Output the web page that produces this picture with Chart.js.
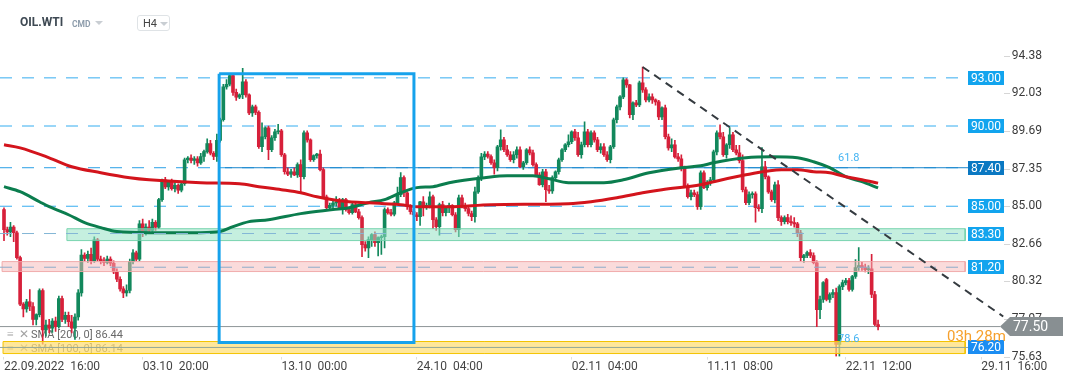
<!DOCTYPE html>
<html>
<head>
<meta charset="utf-8">
<title>OIL.WTI H4</title>
<script src="https://cdn.jsdelivr.net/npm/chart.js@4.4.1/dist/chart.umd.min.js"></script>
<style>
  body { margin: 0; background: #fff; }
  #wrap { position: relative; width: 1072px; height: 382px; font-family: Roboto, Arial, sans-serif; }
  #oilChart { position: absolute; left: 0; top: 0; }
  .hdr { position: absolute; white-space: nowrap; }
  .sym { left: 20px; top: 15px; font-size: 12px; font-weight: bold; color: #3e4953; line-height: 14px; }
  .cmd { left: 72px; top: 19px; font-size: 8.5px; font-weight: bold; color: #8d9cab; line-height: 10px; }
  .tri { width: 0; height: 0; border-left: 4px solid transparent; border-right: 4px solid transparent; border-top: 4px solid #c9ced3; }
  .tf { left: 137px; top: 15px; width: 33px; height: 16px; border: 1px solid #dfe3e6; border-radius: 3px; box-sizing: border-box; }
  .tf span { position: absolute; left: 5px; top: 1px; font-size: 11px; color: #444; line-height: 13px; }
</style>
</head>
<body>
<div id="wrap">
  <canvas id="oilChart" width="1072" height="382"></canvas>
  <div class="hdr sym">OIL.WTI</div>
  <div class="hdr cmd">CMD</div>
  <div class="hdr tri" style="left:95px; top:21px;"></div>
  <div class="hdr tf"><span>H4</span><div class="hdr tri" style="left:22px; top:6px;"></div></div>
</div>
<script>
// H4 candles (index 0 = 22.09.2022 16:00)
const opens = [
  84.79, 83.54, 83.40, 83.70, 83.35, 81.80, 78.90, 78.60, 79.05, 78.75,
  77.95, 78.25, 79.75, 77.30, 77.60, 77.40, 77.85, 77.50, 79.25, 77.95,
  78.20, 77.80, 77.40, 78.10, 79.60, 81.95, 81.75, 82.00, 81.60, 82.90,
  81.70, 81.60, 81.50, 81.70, 81.45, 80.90, 80.45, 79.85, 79.60, 79.75,
  81.55, 82.10, 81.70, 83.90, 83.30, 83.70, 83.50, 84.00, 83.70, 85.41,
  86.65, 86.20, 86.50, 86.10, 86.30, 86.00, 86.40, 87.90, 88.00, 87.85,
  87.95, 87.70, 88.10, 88.40, 88.90, 88.30, 88.10, 89.10, 90.39, 92.44,
  92.60, 93.15, 92.10, 91.80, 91.95, 92.75, 91.94, 90.82, 91.20, 90.85,
  88.71, 89.33, 89.89, 88.52, 89.27, 89.64, 89.70, 88.21, 87.15, 87.00,
  87.15, 86.95, 87.59, 86.84, 89.57, 89.14, 87.90, 88.15, 88.25, 87.28,
  85.59, 84.91, 85.05, 85.20, 85.28, 84.91, 85.41, 84.79, 84.60, 85.10,
  84.65, 84.29, 82.61, 82.40, 82.92, 83.23, 82.73, 83.04, 83.10, 84.79,
  84.60, 84.50, 85.22, 85.72, 86.78, 85.84, 84.97, 84.66, 84.47, 84.35,
  85.28, 84.97, 85.05, 85.59, 84.16, 83.73, 85.10, 84.60, 84.91, 85.05,
  84.47, 83.54, 85.53, 84.97, 84.85, 84.55, 84.35, 85.90, 86.78, 88.08,
  88.25, 88.10, 87.71, 87.40, 88.71, 89.14, 88.52, 88.21, 87.90, 88.21,
  88.52, 87.46, 87.71, 88.52, 88.33, 87.59, 86.96, 86.34, 87.15, 86.03,
  85.96, 86.78, 87.15, 87.90, 88.52, 88.83, 89.02, 89.64, 89.27, 88.21,
  88.83, 89.64, 88.83, 89.57, 89.14, 88.52, 88.71, 88.21, 87.90, 88.71,
  90.39, 91.19, 91.82, 92.88, 92.56, 90.70, 91.44, 91.32, 92.69, 92.25,
  91.63, 91.82, 91.63, 91.50, 90.57, 91.13, 89.33, 88.64, 88.83, 88.08,
  87.95, 87.40, 86.22, 85.59, 85.84, 85.72, 84.97, 87.09, 86.16, 86.47,
  86.65, 88.39, 89.58, 89.33, 88.21, 88.83, 89.45, 88.52, 88.33, 87.84,
  86.03, 85.22, 85.72, 85.78, 84.91, 84.85, 87.46, 86.84, 85.90, 85.41,
  86.34, 84.29, 84.04, 84.29, 84.04, 83.98, 83.90, 83.35, 81.80, 81.93,
  82.11, 81.93, 81.48, 78.56, 79.19, 80.43, 79.19, 79.50, 79.62, 76.39,
  79.99, 80.24, 80.36, 79.81, 80.62, 81.18, 81.30, 81.18, 81.05, 81.10,
  79.50, 77.63
];
const highs = [
  84.90, 83.70, 84.00, 83.80, 83.45, 81.90, 79.00, 79.20, 79.80, 79.00,
  78.30, 79.85, 79.85, 77.90, 77.95, 78.00, 78.10, 79.40, 79.40, 78.40,
  78.40, 78.20, 78.30, 79.80, 82.30, 82.10, 82.20, 82.40, 83.10, 83.00,
  81.90, 81.80, 81.90, 81.85, 81.60, 81.10, 80.60, 80.00, 80.10, 81.70,
  82.30, 82.20, 84.10, 84.20, 83.90, 84.10, 84.20, 84.10, 85.50, 86.70,
  86.80, 86.60, 86.70, 86.50, 86.40, 86.50, 88.00, 88.10, 88.20, 88.10,
  88.10, 88.30, 88.50, 89.20, 89.10, 88.40, 89.50, 90.50, 92.60, 92.90,
  93.25, 93.25, 92.30, 92.00, 93.60, 92.90, 92.00, 91.30, 91.30, 90.95,
  90.20, 89.95, 90.00, 89.40, 89.80, 90.10, 89.80, 88.30, 87.40, 87.30,
  87.40, 87.70, 87.90, 89.70, 89.70, 89.20, 88.20, 88.30, 88.50, 87.40,
  85.70, 85.20, 85.30, 85.60, 85.50, 85.50, 85.50, 84.90, 85.20, 85.20,
  84.80, 84.40, 82.80, 83.10, 83.30, 83.40, 83.10, 83.20, 84.90, 84.90,
  84.80, 85.30, 86.20, 87.10, 86.90, 85.90, 85.10, 84.80, 84.60, 85.30,
  85.60, 85.20, 85.90, 85.70, 84.30, 85.20, 85.30, 85.00, 85.20, 85.10,
  84.60, 85.70, 85.70, 85.20, 85.00, 84.70, 86.20, 86.90, 88.30, 88.40,
  88.40, 88.20, 87.90, 88.80, 89.76, 89.30, 88.80, 88.40, 88.40, 88.70,
  88.70, 87.80, 88.60, 88.70, 88.50, 87.70, 87.10, 87.30, 87.30, 86.30,
  86.90, 87.20, 88.00, 88.60, 88.90, 89.45, 89.70, 89.80, 89.60, 89.00,
  90.26, 89.80, 89.70, 89.70, 89.30, 88.90, 88.90, 88.40, 88.80, 90.50,
  91.30, 91.90, 93.00, 92.95, 92.60, 91.50, 91.60, 92.80, 93.68, 92.40,
  92.00, 92.00, 91.70, 91.60, 91.20, 91.30, 89.50, 89.20, 89.10, 88.30,
  88.20, 87.50, 86.40, 86.00, 86.00, 85.90, 87.20, 87.20, 86.60, 86.80,
  88.50, 89.70, 90.08, 89.60, 88.90, 89.90, 89.60, 88.80, 88.80, 88.20,
  86.20, 85.90, 85.90, 85.90, 85.10, 88.65, 87.80, 86.90, 86.00, 86.50,
  86.60, 84.40, 84.40, 84.50, 84.40, 84.30, 84.00, 83.50, 82.00, 82.20,
  82.30, 82.10, 81.60, 79.40, 80.30, 80.50, 79.60, 79.80, 79.90, 80.10,
  80.40, 80.50, 80.50, 80.70, 81.67, 82.42, 81.50, 81.40, 81.30, 82.00,
  79.70, 77.90
];
const lows = [
  82.85, 83.20, 83.10, 82.80, 81.70, 78.80, 78.10, 78.40, 78.50, 77.60,
  77.60, 78.10, 76.40, 76.90, 77.10, 77.13, 77.20, 77.40, 77.80, 77.70,
  77.50, 77.10, 76.70, 77.90, 79.40, 81.60, 81.50, 81.40, 81.50, 81.60,
  81.40, 81.30, 81.40, 81.30, 80.80, 80.30, 79.70, 79.30, 79.40, 79.60,
  81.40, 81.60, 81.60, 83.10, 83.20, 83.40, 83.40, 83.50, 83.60, 85.30,
  86.10, 86.00, 86.00, 85.90, 85.80, 85.90, 86.30, 87.70, 87.70, 87.60,
  87.50, 87.60, 87.80, 88.30, 88.20, 87.90, 87.80, 89.00, 90.30, 92.30,
  92.50, 91.90, 91.60, 91.70, 91.70, 91.80, 90.70, 90.60, 90.70, 88.60,
  88.40, 89.20, 87.90, 88.40, 89.10, 89.50, 88.10, 87.00, 86.90, 86.80,
  86.90, 86.80, 85.84, 86.70, 89.00, 87.80, 87.80, 88.00, 87.20, 85.50,
  84.80, 84.80, 84.90, 85.00, 84.80, 84.50, 84.70, 84.50, 84.50, 84.60,
  84.20, 81.86, 82.20, 81.80, 82.50, 82.50, 81.90, 82.00, 82.40, 84.50,
  84.40, 84.40, 85.10, 85.60, 85.60, 84.80, 84.50, 84.40, 84.10, 83.80,
  84.40, 84.80, 84.90, 83.60, 83.50, 83.20, 84.40, 84.40, 84.60, 84.40,
  83.40, 83.10, 84.90, 84.70, 84.40, 84.10, 84.00, 85.80, 86.60, 87.90,
  88.00, 87.60, 87.00, 87.20, 88.50, 88.40, 88.10, 87.80, 87.70, 88.00,
  87.40, 87.30, 87.60, 88.20, 87.50, 86.90, 86.30, 86.20, 85.28, 85.80,
  85.80, 86.60, 87.00, 87.80, 88.40, 88.70, 88.90, 89.10, 88.10, 88.00,
  88.70, 88.70, 88.70, 89.00, 88.40, 88.30, 88.10, 87.80, 87.70, 88.60,
  90.20, 91.00, 91.70, 92.40, 90.50, 90.40, 91.20, 91.20, 92.10, 91.50,
  91.50, 91.40, 91.30, 90.40, 90.40, 89.20, 88.50, 88.40, 88.00, 87.80,
  87.20, 86.20, 85.50, 85.40, 85.60, 84.80, 84.80, 86.10, 86.00, 86.30,
  86.50, 88.20, 89.20, 88.10, 88.00, 88.60, 88.40, 88.20, 87.70, 85.90,
  85.10, 85.10, 85.50, 84.00, 84.70, 84.60, 86.70, 85.80, 85.30, 85.20,
  84.10, 83.80, 83.90, 83.90, 83.80, 83.70, 83.10, 81.60, 81.50, 81.80,
  81.80, 81.40, 77.50, 78.00, 79.00, 79.10, 79.00, 79.30, 75.64, 75.64,
  79.80, 80.10, 79.70, 79.70, 80.50, 81.00, 81.00, 80.90, 80.80, 79.30,
  77.55, 77.30
];
const closes = [
  83.54, 83.40, 83.70, 83.35, 81.80, 78.90, 78.60, 79.05, 78.75, 77.95,
  78.25, 79.75, 77.30, 77.60, 77.40, 77.85, 77.50, 79.25, 77.95, 78.20,
  77.80, 77.40, 78.10, 79.60, 81.95, 81.75, 82.00, 81.60, 82.90, 81.70,
  81.60, 81.50, 81.70, 81.45, 80.90, 80.45, 79.85, 79.60, 79.75, 81.55,
  82.10, 81.70, 83.90, 83.30, 83.70, 83.50, 84.00, 83.70, 85.41, 86.65,
  86.20, 86.50, 86.10, 86.30, 86.00, 86.40, 87.90, 88.00, 87.85, 87.95,
  87.70, 88.10, 88.40, 88.90, 88.30, 88.10, 89.10, 90.39, 92.44, 92.60,
  93.15, 92.10, 91.80, 91.95, 92.75, 91.94, 90.82, 91.20, 90.85, 88.71,
  89.33, 89.89, 88.52, 89.27, 89.64, 89.70, 88.21, 87.15, 87.00, 87.15,
  86.95, 87.59, 86.84, 89.57, 89.14, 87.90, 88.15, 88.25, 87.28, 85.59,
  84.91, 85.05, 85.20, 85.28, 84.91, 85.41, 84.79, 84.60, 85.10, 84.65,
  84.29, 82.61, 82.40, 82.92, 83.23, 82.73, 83.04, 83.10, 84.79, 84.60,
  84.50, 85.22, 85.72, 86.78, 85.84, 84.97, 84.66, 84.47, 84.35, 85.28,
  84.97, 85.05, 85.59, 84.16, 83.73, 85.10, 84.60, 84.91, 85.05, 84.47,
  83.54, 85.53, 84.97, 84.85, 84.55, 84.35, 85.90, 86.78, 88.08, 88.25,
  88.10, 87.71, 87.40, 88.71, 89.14, 88.52, 88.21, 87.90, 88.21, 88.52,
  87.46, 87.71, 88.52, 88.33, 87.59, 86.96, 86.34, 87.15, 86.03, 85.96,
  86.78, 87.15, 87.90, 88.52, 88.83, 89.02, 89.64, 89.27, 88.21, 88.83,
  89.64, 88.83, 89.57, 89.14, 88.52, 88.71, 88.21, 87.90, 88.71, 90.39,
  91.19, 91.82, 92.88, 92.56, 90.70, 91.44, 91.32, 92.69, 92.25, 91.63,
  91.82, 91.63, 91.50, 90.57, 91.13, 89.33, 88.64, 88.83, 88.08, 87.95,
  87.40, 86.22, 85.59, 85.84, 85.72, 84.97, 87.09, 86.16, 86.47, 86.65,
  88.39, 89.58, 89.33, 88.21, 88.83, 89.45, 88.52, 88.33, 87.84, 86.03,
  85.22, 85.72, 85.78, 84.91, 84.85, 87.46, 86.84, 85.90, 85.41, 86.34,
  84.29, 84.04, 84.29, 84.04, 83.98, 83.90, 83.35, 81.80, 81.93, 82.11,
  81.93, 81.48, 78.56, 79.19, 80.24, 79.19, 79.50, 79.62, 76.39, 79.99,
  80.24, 80.36, 79.81, 80.62, 81.18, 81.30, 81.18, 81.05, 81.10, 79.50,
  77.63, 77.50
];

// moving averages, sampled along the drawn curves (candle index, price)
const sma200Idx = [0, 5, 14, 21, 30, 39, 45, 61, 73, 79, 86, 92, 97, 102, 107, 113, 118, 123, 128, 138, 151, 175, 182, 190, 198, 204, 216, 220, 230, 241, 246, 251, 256, 261, 266, 271];
const sma200 = [88.83, 88.64, 88.02, 87.46, 87.09, 86.78, 86.65, 86.47, 86.40, 86.22, 86.03, 85.84, 85.59, 85.41, 85.28, 85.22, 85.16, 85.10, 84.97, 84.97, 85.10, 85.16, 85.28, 85.53, 85.84, 86.03, 86.34, 86.53, 86.96, 87.28, 87.28, 87.15, 87.09, 86.84, 86.65, 86.44];
const sma100Idx = [0, 5, 11, 14, 20, 25, 30, 35, 45, 61, 67, 71, 76, 82, 92, 102, 107, 113, 118, 123, 128, 133, 138, 149, 156, 164, 169, 175, 186, 192, 200, 210, 216, 220, 230, 238, 246, 251, 256, 261, 266, 271];
const sma100 = [86.22, 85.91, 85.28, 84.97, 84.47, 83.98, 83.67, 83.42, 83.35, 83.35, 83.42, 83.73, 84.04, 84.16, 84.54, 84.79, 84.91, 85.22, 85.41, 85.84, 86.16, 86.22, 86.47, 86.78, 86.90, 86.90, 86.71, 86.47, 86.47, 86.65, 87.09, 87.40, 87.52, 87.71, 88.02, 88.08, 88.02, 87.77, 87.40, 86.84, 86.53, 86.14];

// horizontal levels drawn on the chart
const levelValues = [93.00, 90.00, 87.40, 85.00, 83.30, 81.20, 76.20];
const levelEnd = 298.9;
const fibLineStart = 68.5;
const fibLabels = ['61.8', '78.6'];
const fibLabelX = 258.6;
const fibLabelY = [88.02, 76.70];

// zones
const bandTop = [83.60, 81.55, 76.57];
const bandBottom = [82.86, 80.93, 75.82];
const bandStart = [19.5, -0.6, -0.3];
const bandEnd = 298;

// drawn rectangle and trend line
const boxX = [66.7, 127.1];
const boxY = [93.25, 76.51];
const trendX = [198, 309.8];
const trendY = [93.68, 78.13];

const priceLineEnd = 308.8;
const countdown = '03h 28m';
const countdownY = 76.85;

// axes
const yTicks = [94.38, 92.03, 89.69, 87.35, 85.00, 82.66, 80.32, 77.97, 75.63];
const xTickIdx = [0, 43, 86, 128, 176, 218, 261, 303];
const xTickText = ['22.09.2022  16:00', '03.10  20:00', '13.10  00:00', '24.10  04:00', '02.11  04:00', '11.11  08:00', '22.11  12:00', '29.11  16:00'];

const xMin = -1.24, xMax = 321.2;
const yMin = 75.63, yMax = 95.36;

const UP = '#12885c';
const DOWN = '#d7203a';
const candleColors = opens.map((o, i) => closes[i] >= o ? UP : DOWN);

const levelStyle = [
    {color: '#35adf0', dash: [12, 10], order: 9},
    {color: '#35adf0', dash: [12, 10], order: 9},
    {color: '#2a9fe6', dash: [12, 10], order: 9},
    {color: '#35adf0', dash: [12, 10], order: 9},
    {color: '#84b6d6', dash: [12, 10], order: 3},
    {color: '#8eaecb', dash: [12, 10], order: 3},
    {color: '#92a89a', dash: [], order: 3}
];
const levelBoxColor = ['#12a4ee', '#12a4ee', '#0a78c2', '#12a4ee', '#12a4ee', '#12a4ee', '#1b8df2'];
const bandStyle = [
    {fill: 'rgba(150, 226, 196, 0.55)', border: 'rgba(110, 208, 168, 0.9)'},
    {fill: 'rgba(246, 184, 184, 0.5)', border: 'rgba(240, 165, 165, 0.9)'},
    {fill: 'rgba(255, 222, 115, 0.72)', border: '#f3c300'}
];

function lineSet(points, color, width, dash, order) {
    return {
        type: 'line',
        data: points,
        borderColor: color,
        borderWidth: width,
        borderDash: dash,
        pointRadius: 0,
        fill: false,
        tension: 0,
        order: order
    };
}

const datasets = [];

levelValues.forEach((v, k) => {
    datasets.push(lineSet([{x: xMin, y: v}, {x: levelEnd, y: v}], levelStyle[k].color, 1, levelStyle[k].dash, levelStyle[k].order));
});
// solid 61.8 retracement line over the dashed 87.40 level
datasets.push(lineSet([{x: fibLineStart, y: levelValues[2]}, {x: levelEnd, y: levelValues[2]}], '#1a86cc', 1, [], 8));
// last price line
datasets.push(lineSet([{x: xMin, y: closes[closes.length - 1]}, {x: priceLineEnd, y: closes[closes.length - 1]}], '#8d9597', 1, [], 9));

datasets.push({
    type: 'bar',
    data: opens.map((o, i) => ({x: i, y: [lows[i], highs[i]]})),
    backgroundColor: candleColors,
    barThickness: 1,
    grouped: false,
    order: 7
});
datasets.push({
    type: 'bar',
    data: opens.map((o, i) => ({x: i, y: [o, closes[i]]})),
    backgroundColor: candleColors,
    barThickness: 3,
    minBarLength: 1,
    grouped: false,
    order: 6
});

bandTop.forEach((top, k) => {
    const s = bandStart[k];
    const b = bandBottom[k];
    datasets.push({
        type: 'line',
        data: [{x: s, y: top}, {x: bandEnd, y: top}, {x: bandEnd, y: b}, {x: s, y: b}, {x: s, y: top}],
        borderColor: bandStyle[k].border,
        backgroundColor: bandStyle[k].fill,
        borderWidth: 1,
        pointRadius: 0,
        fill: 'shape',
        tension: 0,
        order: 5
    });
});

const sma200Set = lineSet(sma200Idx.map((x, i) => ({x: x, y: sma200[i]})), '#d3141c', 3, [], 4);
const sma100Set = lineSet(sma100Idx.map((x, i) => ({x: x, y: sma100[i]})), '#0b7d4e', 3, [], 4);
sma200Set.cubicInterpolationMode = 'monotone';
sma100Set.cubicInterpolationMode = 'monotone';
datasets.push(sma200Set, sma100Set);

datasets.push(lineSet([
    {x: boxX[0], y: boxY[0]}, {x: boxX[1], y: boxY[0]}, {x: boxX[1], y: boxY[1]},
    {x: boxX[0], y: boxY[1]}, {x: boxX[0], y: boxY[0]}
], '#16a2ec', 3, [], 2));

datasets.push(lineSet([{x: trendX[0], y: trendY[0]}, {x: trendX[1], y: trendY[1]}], '#353b40', 2, [8, 6], 1));

const overlay = {
    id: 'overlay',
    beforeDatasetsDraw(chart) {
        const {ctx} = chart;
        ctx.save();
        ctx.textBaseline = 'middle';
        ctx.textAlign = 'left';
        const rows = [
            ['SMA [200, 0] ' + sma200[sma200.length - 1].toFixed(2), 335],
            ['SMA [100, 0] ' + sma100[sma100.length - 1].toFixed(2), 349]
        ];
        rows.forEach(([t, y]) => {
            ctx.font = '12px Roboto';
            ctx.fillStyle = '#a3a3a3';
            ctx.fillText('\u2261', 7, y);
            ctx.fillText('\u2715', 19, y);
            ctx.font = '11px Roboto';
            ctx.fillStyle = '#6a6a6a';
            ctx.fillText(t, 31, y);
        });
        ctx.restore();
    },
    afterDraw(chart) {
        const {ctx, scales: {x, y}} = chart;
        ctx.save();

        // small dashes next to the price labels
        ctx.strokeStyle = '#d6d6d6';
        ctx.lineWidth = 1;
        y.ticks.forEach(t => {
            const py = Math.round(y.getPixelForValue(t.value)) + 0.5;
            ctx.beginPath();
            ctx.moveTo(1004, py);
            ctx.lineTo(1010, py);
            ctx.stroke();
        });

        ctx.textBaseline = 'middle';
        ctx.textAlign = 'left';
        ctx.font = '11px Roboto';
        ctx.fillStyle = '#45b4f2';
        fibLabels.forEach((t, k) => ctx.fillText(t, x.getPixelForValue(fibLabelX), y.getPixelForValue(fibLabelY[k])));

        // level price boxes
        const bx = Math.round(x.getPixelForValue(levelEnd));
        ctx.font = '12px Roboto';
        ctx.textAlign = 'center';
        levelValues.forEach((v, k) => {
            const py = Math.round(y.getPixelForValue(v));
            ctx.fillStyle = levelBoxColor[k];
            ctx.fillRect(bx, py - 7, 36, 14);
            ctx.fillStyle = '#fff';
            ctx.fillText(v.toFixed(2), bx + 18, py + 1);
        });

        // last price tag
        const last = closes[closes.length - 1];
        const py = y.getPixelForValue(last);
        const tx = x.getPixelForValue(priceLineEnd);
        ctx.fillStyle = '#888f92';
        ctx.beginPath();
        ctx.moveTo(tx, py);
        ctx.lineTo(tx + 10, py - 9.5);
        ctx.lineTo(1063, py - 9.5);
        ctx.lineTo(1063, py + 9.5);
        ctx.lineTo(tx + 10, py + 9.5);
        ctx.closePath();
        ctx.fill();
        ctx.fillStyle = '#fff';
        ctx.font = '14px Roboto';
        ctx.textAlign = 'left';
        ctx.fillText(last.toFixed(2), tx + 13, py + 1);

        // candle countdown, drawn last so it sits over the boxes
        ctx.font = '15px Roboto';
        ctx.fillStyle = '#f6a02c';
        ctx.fillText(countdown, 947, y.getPixelForValue(countdownY));

        ctx.restore();
    }
};

new Chart(document.getElementById('oilChart'), {
    type: 'bar',
    data: {datasets: datasets},
    options: {
        responsive: false,
        maintainAspectRatio: false,
        animation: false,
        events: [],
        layout: {padding: {top: 40, right: 28, bottom: 8, left: 0}},
        plugins: {
            legend: {display: false},
            tooltip: {enabled: false}
        },
        scales: {
            x: {
                type: 'linear',
                min: xMin,
                max: xMax,
                offset: false,
                afterBuildTicks: (scale) => { scale.ticks = xTickIdx.map(v => ({value: v})); },
                grid: {display: true, offset: false, drawOnChartArea: false, drawTicks: true, tickLength: 3, color: '#dedede'},
                border: {display: false},
                ticks: {
                    autoSkip: false,
                    maxRotation: 0,
                    align: 'start',
                    padding: 0,
                    color: '#444',
                    font: {family: 'Roboto', size: 12},
                    callback: (value, index) => xTickText[index]
                }
            },
            y: {
                type: 'linear',
                position: 'right',
                min: yMin,
                max: yMax,
                beginAtZero: false,
                afterBuildTicks: (scale) => { scale.ticks = yTicks.map(v => ({value: v})); },
                grid: {display: false, drawTicks: false},
                border: {display: false},
                ticks: {
                    mirror: true,
                    padding: 2,
                    color: '#3b3b3b',
                    font: {family: 'Roboto', size: 12},
                    callback: (value) => value.toFixed(2)
                }
            }
        }
    },
    plugins: [overlay]
});
</script>
</body>
</html>
